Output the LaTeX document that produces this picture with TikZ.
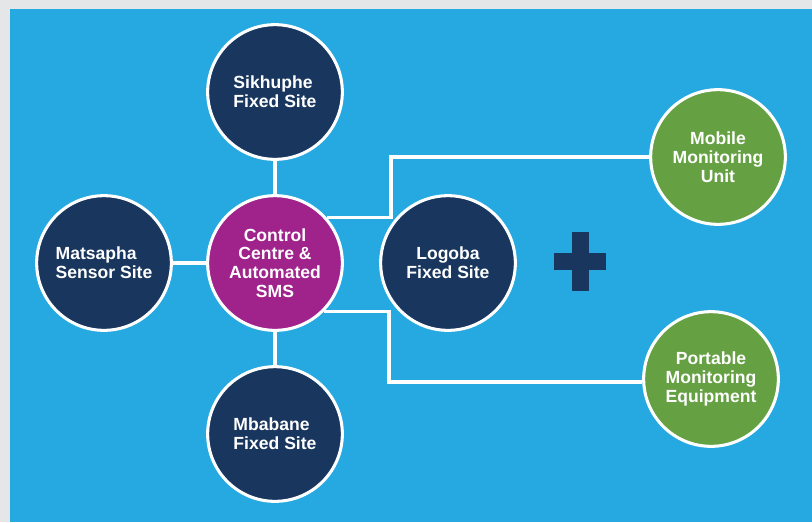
\documentclass[tikz,border=0pt]{standalone}
\usepackage{fontspec}
\setmainfont{Liberation Sans}
\usepackage{tikz}
\usetikzlibrary{calc}

\definecolor{edgegrey}{RGB}{229,230,232}
\definecolor{skyblue}{RGB}{37,169,224}
\definecolor{sitenavy}{RGB}{25,54,94}
\definecolor{hubpurple}{RGB}{160,34,139}
\definecolor{mobilegreen}{RGB}{101,161,67}

\tikzset{
	site/.style={circle,draw=white,line width=2.6pt,minimum size=4.04cm,inner sep=0pt,
		text=white,font=\bfseries\fontsize{15}{16}\selectfont},
	fixed/.style={site,fill=sitenavy},
	hub/.style={site,fill=hubpurple,align=center},
	mobile/.style={site,fill=mobilegreen,align=center},
	link/.style={draw=white,line width=2.6pt}
}

\begin{document}
\begin{tikzpicture}[x=0.03cm,y=-0.03cm]
	\fill[edgegrey] (0,0) rectangle (812,522);
	\fill[skyblue] (10,9) rectangle (812,522);
	\useasboundingbox (0,0) rectangle (812,522);

	\node[hub] (ctrl) at (275,263) {Control\\Centre \&\\Automated\\SMS};
	\node[fixed,align=left] (sik) at (275,92) {Sikhuphe\\Fixed Site};
	\node[fixed,align=left] (mba) at (275,434) {Mbabane\\Fixed Site};
	\node[fixed,align=left] (mat) at (104,263) {Matsapha\\Sensor Site};
	\node[fixed,align=center] (log) at (448,263) {Logoba\\Fixed Site};
	\node[mobile] (unit) at (718,157) {Mobile\\Monitoring\\Unit};
	\node[mobile] (equip) at (711,379) {Portable\\Monitoring\\Equipment};

	\coordinate (bendU) at (391,157);
	\coordinate (bendD) at (389,382);

	\draw[link] (ctrl) -- (sik);
	\draw[link] (ctrl) -- (mba);
	\draw[link] (ctrl) -- (mat);
	\draw[link] (ctrl.41) -| (bendU) -- (unit.west);
	\draw[link] (ctrl.-45) -| (bendD) -- (bendD -| equip.west);

	% plus sign
	\fill[sitenavy] (572,232) rectangle (589,291);
	\fill[sitenavy] (554,253) rectangle (606,270);
\end{tikzpicture}
\end{document}
